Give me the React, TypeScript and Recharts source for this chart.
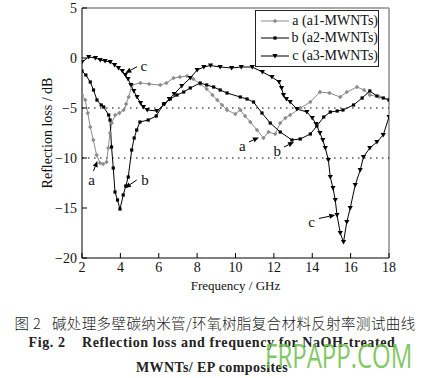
import React from "react";
import {
  LineChart,
  Line,
  XAxis,
  YAxis,
  ReferenceLine,
  ReferenceDot,
} from "recharts";

// frequency (GHz) / reflection loss (dB)
const freqA = [2, 2.17, 2.3, 2.43, 2.59, 2.76, 2.94, 3.1, 3.28, 3.37, 3.46, 3.55, 3.73, 3.95, 4.17, 4.3, 4.43, 4.6, 5.04, 5.5, 6.08, 6.4, 6.77, 7.1, 7.47, 7.8, 8.16, 8.5, 8.8, 9.05, 9.3, 9.56, 9.99, 10.25, 10.5, 10.77, 11.12, 11.46, 11.72, 12.07, 12.33, 12.6, 12.85, 13.38, 13.9, 14.4, 14.9, 15.46, 15.8, 16.33, 16.7, 17.0, 17.5, 18];
const lossA = [-3.7, -4.2, -5.5, -6.9, -8.2, -9.7, -10.5, -10.6, -10.4, -9.0, -7.5, -6.5, -5.7, -5.5, -5.2, -4.6, -3.9, -2.7, -2.5, -2.6, -2.7, -2.5, -2.0, -1.9, -1.8, -2.1, -2.6, -3.1, -3.7, -4.2, -4.7, -5.2, -5.6, -5.2, -5.8, -6.4, -7.2, -8.0, -7.4, -7.6, -6.5, -6.0, -5.7, -5.0, -4.4, -3.4, -3.5, -3.9, -3.4, -2.9, -3.2, -3.7, -3.9, -4.1];

const freqB = [2, 2.2, 2.43, 2.6, 2.78, 3.0, 3.13, 3.39, 3.46, 3.54, 3.63, 3.72, 3.85, 3.98, 4.15, 4.28, 4.41, 4.59, 4.72, 4.85, 5.02, 5.45, 5.87, 6.25, 6.6, 6.95, 7.3, 7.64, 8.16, 8.5, 8.86, 9.2, 9.56, 10.25, 10.6, 10.94, 11.38, 11.81, 12.33, 12.94, 13.37, 13.9, 14.24, 14.6, 14.94, 15.3, 15.6, 16.15, 16.6, 17.0, 17.37, 17.7, 18];
const lossB = [-1.3, -1.7, -2.4, -3.2, -4.2, -4.7, -4.9, -5.7, -6.2, -8.9, -11.0, -13.4, -14.2, -15.1, -13.7, -12.8, -11.9, -9.2, -8.0, -7.2, -6.4, -6.2, -5.8, -4.6, -4.1, -3.7, -3.4, -3.0, -2.5, -2.7, -2.9, -3.2, -3.5, -3.9, -4.1, -4.4, -5.5, -6.5, -7.4, -8.2, -8.1, -7.6, -6.8, -5.9, -5.4, -5.3, -5.2, -4.7, -4.0, -3.3, -3.8, -4.0, -4.2];

const freqC = [2, 2.35, 2.7, 2.95, 3.2, 3.47, 3.7, 3.9, 4.1, 4.26, 4.4, 4.55, 4.7, 4.87, 5.05, 5.2, 5.4, 5.9, 6.3, 6.55, 6.8, 7.2, 7.64, 8.0, 8.35, 8.7, 9.2, 9.8, 10.3, 10.87, 11.4, 11.9, 12.27, 12.4, 12.5, 12.65, 12.85, 13.2, 13.72, 14.0, 14.2, 14.4, 14.55, 14.68, 14.84, 14.94, 15.08, 15.2, 15.29, 15.46, 15.63, 15.8, 15.98, 16.24, 16.5, 16.67, 17.0, 17.37, 17.7, 18];
const lossC = [-0.4, 0.1, 0.0, -0.2, -0.3, -0.4, -0.7, -1.0, -1.3, -1.7, -2.1, -2.7, -3.3, -3.9, -4.5, -4.9, -5.2, -5.3, -4.6, -4.1, -3.6, -2.8, -2.0, -1.2, -0.9, -0.75, -0.9, -1.0, -0.9, -0.9, -1.4, -1.9, -2.4, -3.0, -3.7, -4.1, -4.4, -5.1, -5.4, -6.0, -6.6, -7.5, -8.2, -9.0, -10.2, -11.9, -13.0, -14.2, -15.7, -17.5, -18.4, -16.4, -15.0, -12.7, -11.2, -9.9, -9.0, -8.4, -7.7, -5.9];

const xTicks = [2, 4, 6, 8, 10, 12, 14, 16, 18];
const yTicks = [5, 0, -5, -10, -15, -20];
const dottedLevels = [-5, -10];

const seriesNames = ["a (a1-MWNTs)", "b (a2-MWNTs)", "c (a3-MWNTs)"];

// annotation letters and arrows: [label f, label v, tail f, tail v, head f, head v]
const notes: [string, number, number, number, number, number, number][] = [
  ["c", 5.22, -0.75, 4.87, -0.87, 4.26, -1.5],
  ["a", 2.5, -12.2, 2.6, -11.3, 2.8, -10.3],
  ["b", 5.28, -12.2, 4.85, -12.2, 4.24, -13.0],
  ["a", 10.35, -8.8, 10.7, -8.4, 11.22, -7.95],
  ["b", 12.18, -9.3, 12.53, -8.9, 13.05, -8.4],
  ["c", 13.96, -16.4, 14.35, -16.05, 15.2, -15.7],
];

const toRows = (f: number[], v: number[]) => f.map((x, i) => ({ f: x, v: v[i] }));
const dataA = toRows(freqA, lossA);
const dataB = toRows(freqB, lossB);
const dataC = toRows(freqC, lossC);

const GRAY = "#8c8c8c";
const FONT = "'Liberation Serif', 'DejaVu Serif', serif";

const DotA = (p: any) => {
  const { cx, cy } = p;
  if (cx == null || cy == null) return null;
  return <path key={p.index} d={`M${cx},${cy - 2.2}L${cx + 2.2},${cy}L${cx},${cy + 2.2}L${cx - 2.2},${cy}Z`} fill={GRAY} />;
};
const DotB = (p: any) => {
  const { cx, cy } = p;
  if (cx == null || cy == null) return null;
  return <rect key={p.index} x={cx - 1.6} y={cy - 1.6} width={3.2} height={3.2} fill="#000" />;
};
const DotC = (p: any) => {
  const { cx, cy } = p;
  if (cx == null || cy == null) return null;
  return <path key={p.index} d={`M${cx - 2.6},${cy - 2}L${cx + 2.6},${cy - 2}L${cx},${cy + 2.6}Z`} fill="#000" />;
};

const Arrow = (p: any) => {
  const { x1, y1, x2, y2 } = p;
  if ([x1, y1, x2, y2].some((n) => n == null || isNaN(n))) return null;
  const ang = Math.atan2(y2 - y1, x2 - x1);
  const L = 6;
  const W = 2.6;
  const bx = x2 - L * Math.cos(ang);
  const by = y2 - L * Math.sin(ang);
  const px = -Math.sin(ang) * W;
  const py = Math.cos(ang) * W;
  return (
    <g>
      <line x1={x1} y1={y1} x2={bx} y2={by} stroke="#000" strokeWidth={1} />
      <path d={`M${x2},${y2}L${bx + px},${by + py}L${bx - px},${by - py}Z`} fill="#000" />
    </g>
  );
};

const LegendBox = () => {
  const marks = [DotA, DotB, DotC];
  const colors = [GRAY, "#000", "#000"];
  return (
    <div
      style={{
        position: "absolute",
        left: 255,
        top: 10,
        border: "1px solid #222",
        background: "#fff",
        width: 122,
        padding: "1px 0",
        fontFamily: FONT,
        fontSize: 14,
        color: "#111",
      }}
    >
      {seriesNames.map((n, i) => {
        const M = marks[i];
        return (
          <div key={n} style={{ display: "flex", alignItems: "center", height: 17.5 }}>
            <svg width={36} height={10} style={{ marginLeft: 3 }}>
              <line x1={2} y1={5} x2={30} y2={5} stroke={colors[i]} strokeWidth={1} />
              <M cx={16} cy={5} index={0} />
            </svg>
            <span style={{ whiteSpace: "nowrap", marginLeft: 1 }}>{n}</span>
          </div>
        );
      })}
    </div>
  );
};

const fmt = (v: number) => (v < 0 ? `\u2212${Math.abs(v)}` : `${v}`);

export default function App() {
  return (
    <div
      style={{
        position: "absolute",
        left: 0,
        top: 0,
        width: 424,
        height: 378,
        background: "#fff",
        fontFamily: FONT,
        overflow: "hidden",
      }}
    >
      <LineChart width={424} height={300} margin={{ top: 8, right: 35, left: 0, bottom: 10 }}>
        <XAxis
          dataKey="f"
          type="number"
          domain={[2, 18]}
          ticks={xTicks}
          allowDataOverflow
          height={32}
          tickSize={-5}
          tickMargin={9}
          stroke="#000"
          tick={{ fill: "#111", fontSize: 14, fontFamily: FONT }}
          label={{ value: "Frequency / GHz", position: "insideBottom", offset: 0, fill: "#111", fontSize: 13, fontFamily: FONT }}
        />
        <YAxis
          type="number"
          domain={[-20, 5]}
          ticks={yTicks}
          allowDataOverflow
          width={82}
          tickSize={-5}
          tickMargin={10}
          stroke="#000"
          tickFormatter={fmt}
          tick={{ fill: "#111", fontSize: 14, fontFamily: FONT }}
          label={{
            content: ({ viewBox }: any) => (
              <text
                x={47}
                y={viewBox.y + viewBox.height / 2}
                transform={`rotate(-90 47 ${viewBox.y + viewBox.height / 2})`}
                textAnchor="middle"
                dominantBaseline="central"
                fill="#111"
                fontSize={14}
                fontFamily={FONT}
              >
                Reflection loss / dB
              </text>
            ),
          }}
        />
        <ReferenceLine y={5} stroke={GRAY} strokeWidth={1.5} />
        <ReferenceLine x={18} stroke={GRAY} strokeWidth={1.5} />
        {dottedLevels.map((lv) => (
          <ReferenceLine key={lv} y={lv} stroke="#000" strokeWidth={1} strokeDasharray="1.5 4.5" />
        ))}
        <Line data={dataA} dataKey="v" name={seriesNames[0]} stroke={GRAY} strokeWidth={1} dot={DotA} isAnimationActive={false} />
        <Line data={dataB} dataKey="v" name={seriesNames[1]} stroke="#000" strokeWidth={1} dot={DotB} isAnimationActive={false} />
        <Line data={dataC} dataKey="v" name={seriesNames[2]} stroke="#000" strokeWidth={1} dot={DotC} isAnimationActive={false} />
        {notes.map((n, i) => (
          <ReferenceLine
            key={`arr${i}`}
            segment={[
              { x: n[3], y: n[4] },
              { x: n[5], y: n[6] },
            ]}
            stroke="#000"
            shape={Arrow}
          />
        ))}
        {notes.map((n, i) => (
          <ReferenceDot
            key={`lbl${i}`}
            x={n[1]}
            y={n[2]}
            r={0}
            fill="none"
            stroke="none"
            label={{ value: n[0], position: "center", fill: "#111", fontSize: 15, fontFamily: FONT }}
          />
        ))}
      </LineChart>
      <LegendBox />
      <div
        style={{
          position: "absolute",
          left: 3,
          top: 312,
          width: 424,
          textAlign: "center",
          fontFamily: "'Noto Sans CJK SC', sans-serif",
          fontSize: 14.5,
          fontWeight: 300,
          color: "#222",
          letterSpacing: 0.4,
          whiteSpace: "nowrap",
        }}
      >
        图 2&nbsp;&nbsp;&nbsp;碱处理多壁碳纳米管/环氧树脂复合材料反射率测试曲线
      </div>
      <div
        style={{
          position: "absolute",
          left: 0,
          top: 335,
          width: 424,
          textAlign: "center",
          fontFamily: FONT,
          fontSize: 14,
          fontWeight: "bold",
          color: "#222",
          letterSpacing: 0.6,
          whiteSpace: "nowrap",
        }}
      >
        Fig. 2&nbsp;&nbsp;&nbsp; Reflection loss and frequency for NaOH-treated
      </div>
      <div
        style={{
          position: "absolute",
          left: 0,
          top: 360,
          width: 424,
          textAlign: "center",
          fontFamily: FONT,
          fontSize: 14,
          fontWeight: "bold",
          color: "#222",
          letterSpacing: 0.4,
          whiteSpace: "nowrap",
        }}
      >
        MWNTs/ EP composites
      </div>
      <div
        style={{
          position: "absolute",
          left: 265,
          top: 340,
          fontFamily: "'Open Sans', sans-serif",
          fontSize: 32,
          lineHeight: "32px",
          color: "#6cc04a",
          opacity: 0.85,
          transform: "scaleX(0.75)",
          transformOrigin: "left top",
          whiteSpace: "nowrap",
        }}
      >
        FRPAPP.COM
      </div>
    </div>
  );
}
